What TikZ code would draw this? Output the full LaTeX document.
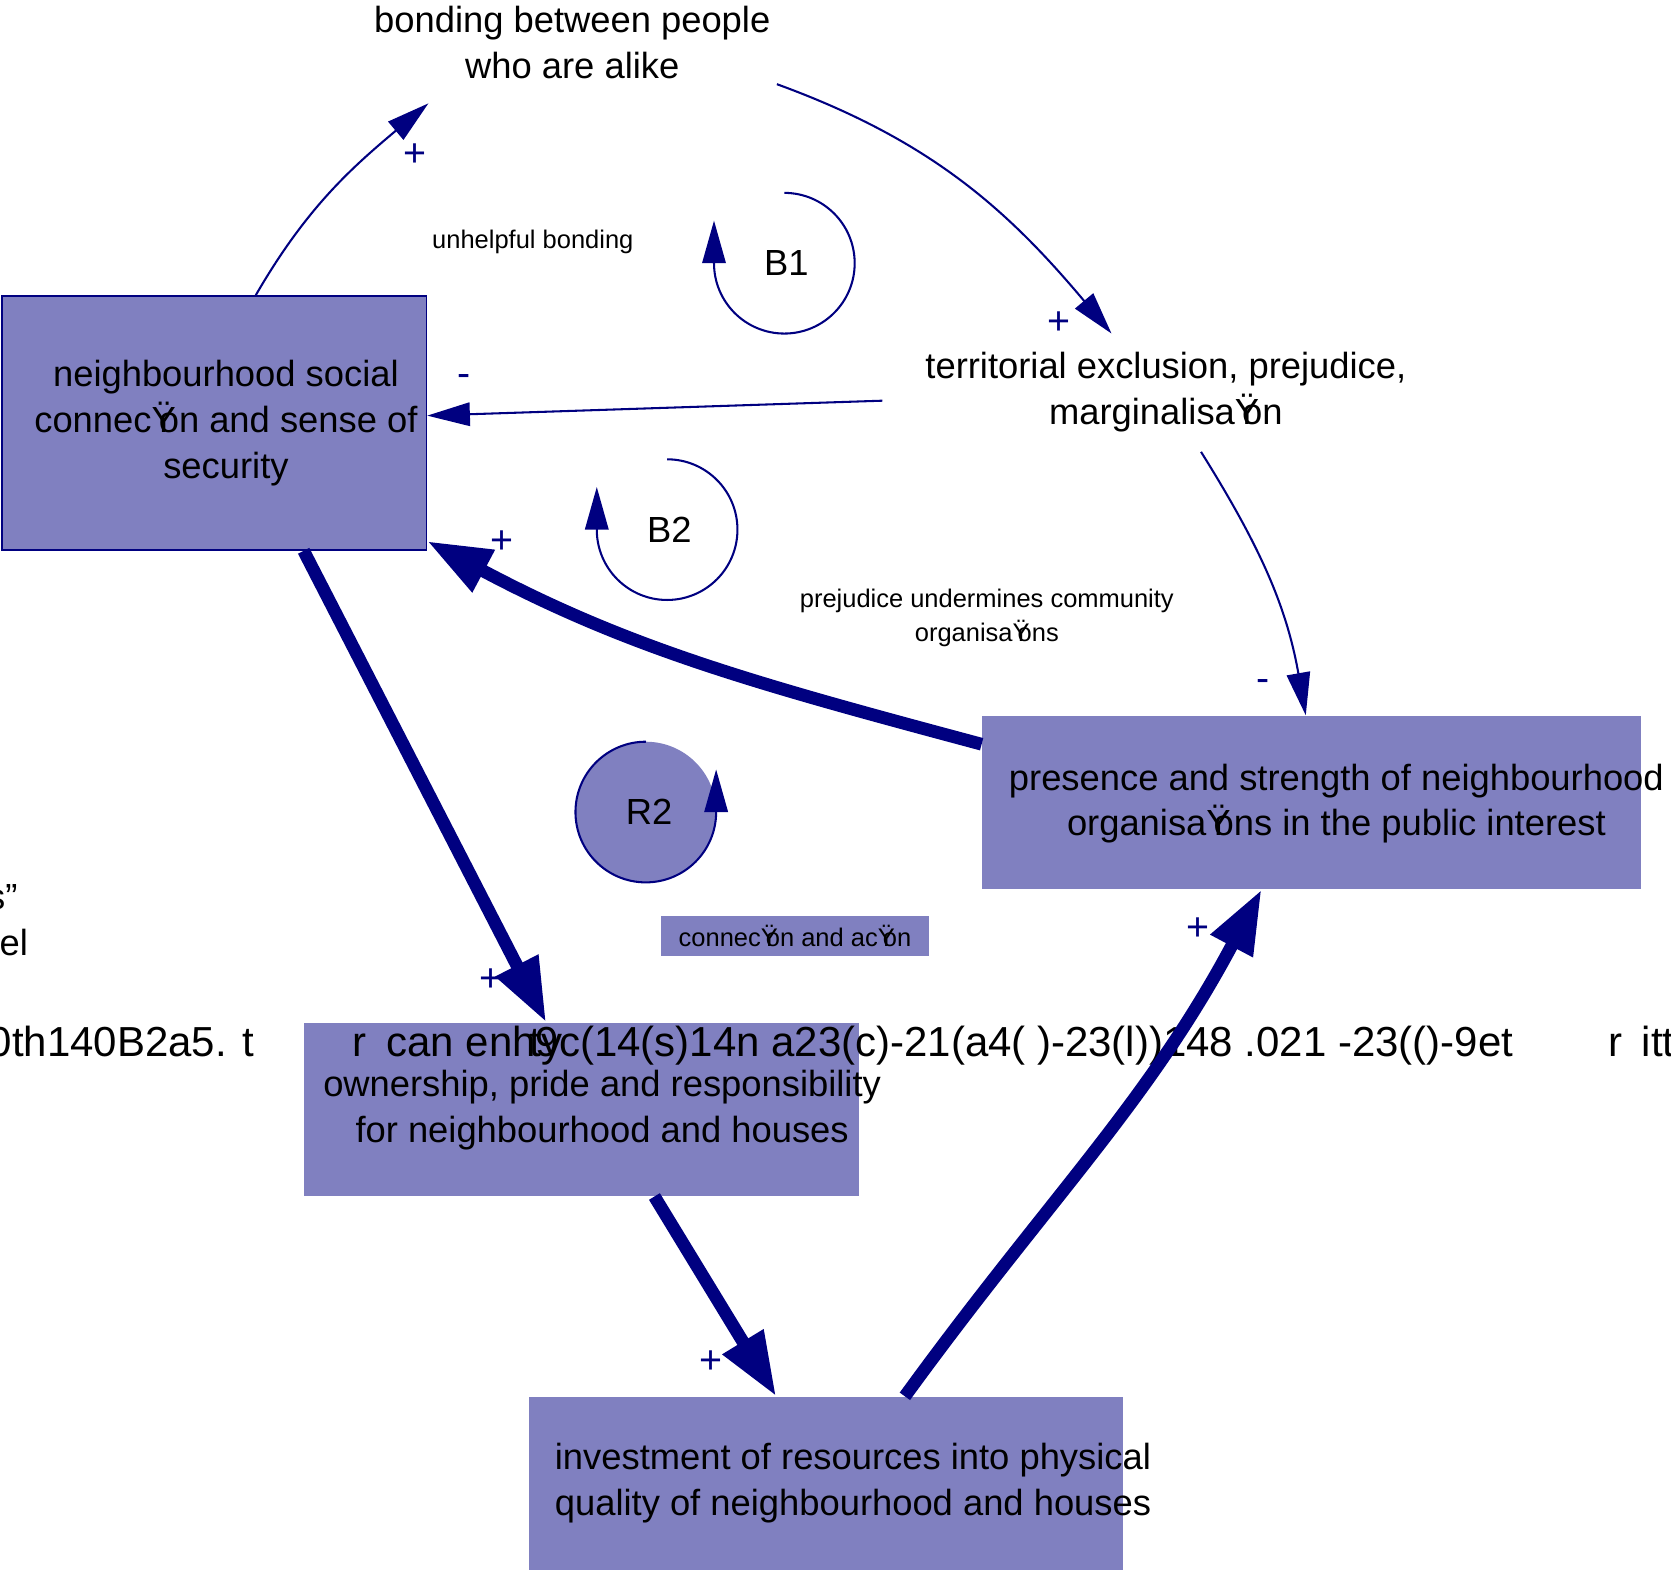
\documentclass[tikz,border=0pt]{standalone}
\usepackage{fontspec}
\setmainfont{Liberation Sans}
\usetikzlibrary{arrows.meta,calc}
\definecolor{loopblue}{RGB}{0,0,128}
\definecolor{boxfill}{RGB}{128,128,192}
\newcommand{\tiglyph}{\makebox[0.2em][l]{Ÿ}}

\begin{document}
\begin{tikzpicture}[x=0.01cm,y=0.01cm,
    font=\fontsize{9.7}{12.2}\selectfont,
    box/.style={fill=boxfill,inner sep=0pt},
    frag/.style={inner sep=0pt,font=\fontsize{11.2}{13}\selectfont},
    small/.style={font=\fontsize{6.8}{9.1}\selectfont,align=center},
    sign/.style={text=loopblue,font=\fontsize{10.5}{11}\selectfont},
    thinlink/.style={loopblue,line width=0.55pt,-{Triangle[length=0.4cm,width=0.22cm]}},
    thicklink/.style={loopblue,line width=3.4pt,-{Triangle[length=0.6cm,width=0.42cm]}}]
      \useasboundingbox (0,0) rectangle (1568,-1473);

      \node[box,draw=loopblue,line width=0.45pt,minimum width=3.98cm,minimum height=2.38cm] (conn) at (201,-397) {};
      \node[box,minimum width=6.18cm,minimum height=1.62cm] (orgs) at (1231,-753) {};
      \node[box,minimum width=5.21cm,minimum height=1.62cm] (pride) at (545.5,-1041) {};
      \node[box,minimum width=5.57cm,minimum height=1.62cm] (invest) at (775.5,-1392) {};

      \node[align=center] (conntxt) at (212,-397) {neighbourhood social\\connec\tiglyph on and sense of\\security};
      \node[align=center] (bond) at (537,-40) {bonding between people\\who are alike};
      \node[align=center] (terr) at (1094,-368) {territorial exclusion, prejudice,\\marginalisa\tiglyph on};
      \node[align=center] (orgstxt) at (1254,-754) {presence and strength of neighbourhood\\organisa\tiglyph ons in the public interest};
      \node[align=center] (pridetxt) at (565,-1042) {ownership, pride and responsibility\\for neighbourhood and houses};
      \node[align=left,anchor=west,inner sep=0pt] (investtxt) at (520,-1392) {investment of resources into physical\\quality of neighbourhood and houses};

      \node[small] (unhelp) at (500,-227) {unhelpful bonding};
      \node[small] (undermine) at (926,-580) {prejudice undermines community\\organisa\tiglyph ons};
      \node[box,small,minimum width=2.52cm,minimum height=0.37cm] (action) at (746,-878.5) {connec\tiglyph on and ac\tiglyph on};

      \node[frag,anchor=base east,font=\fontsize{9.7}{12.2}\selectfont] (edgea) at (17,-853) {s”};
      \node[frag,anchor=base west,font=\fontsize{9.7}{12.2}\selectfont] (edgeb) at (-1,-897) {el};
      \node[frag,anchor=base east] (garba) at (239,-991) {0th140B2a5. t};
      \node[frag,anchor=base west] (garbb) at (330,-991) {r};
      \node[frag,anchor=base west] (garbc) at (362,-991) {can enh9c(14(s)14n a23(c)-21(a4( )-23(l))148 .021 -23(()-9et};
      \node[frag,anchor=base west] (garbd) at (496,-991) {ty};
      \node[frag,anchor=base west] (garbe) at (1509,-991) {r};
      \node[frag,anchor=base west] (garbf) at (1540,-991) {itt};

      \draw[thinlink] (conn.72.7) to[out=60,in=-140] ($(bond)+(-135,-57)$);
      \draw[thinlink] ($(bond)+(192,-39)$) to[out=-20,in=130] ($(terr)+(-51,55)$);
      \draw[thinlink] ($(terr)+(-266,-8)$) -- (conn.2);
      \draw[thinlink] ($(terr)+(33,-56)$) to[out=-58,in=100] (orgs.94);

      \draw[thicklink] (orgs.170) to[out=165,in=-28] (conn.-29.6);
      \draw[thicklink] (conn.-55) -- (pride.112);
      \draw[thicklink] (pride.-50.6) -- (invest.120);
      \draw[thicklink] (invest.48) to[out=54,in=-118] (orgs.-120);

      \node[sign] (s1) at (389,-146) {+};
      \node[sign] (s2) at (994,-303) {+};
      \node[sign] (s3) at (435,-357) {-};
      \node[sign] (s4) at (1185,-643) {-};
      \node[sign] (s5) at (471,-509) {+};
      \node[sign] (s6) at (461,-920) {+};
      \node[sign] (s7) at (667,-1278) {+};
      \node[sign] (s8) at (1124,-872) {+};

      \draw[thinlink] (736,-181) arc[start angle=90,end angle=-180,radius=66] -- ++(0,40);
      \node (b1) at (738,-247) {B1};
      \draw[thinlink] (626,-431) arc[start angle=90,end angle=-180,radius=66] -- ++(0,40);
      \node (b2) at (628,-497) {B2};
      \fill[boxfill] (606,-762) circle[radius=66];
      \draw[thinlink] (606,-696) arc[start angle=90,end angle=360,radius=66] -- ++(0,40);
      \node (r2) at (609,-762) {R2};
\end{tikzpicture}
\end{document}
